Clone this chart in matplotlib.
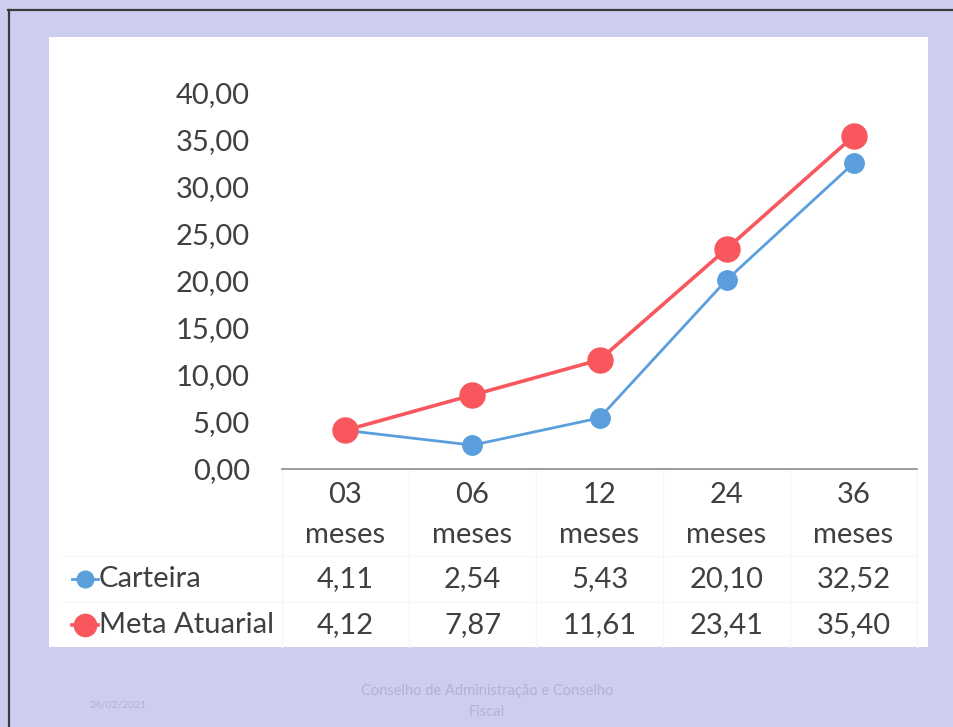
import matplotlib.pyplot as plt
import matplotlib.transforms as mtransforms
from matplotlib.patches import Rectangle
from matplotlib.lines import Line2D

# data
categories = ['03\nmeses', '06\nmeses', '12\nmeses', '24\nmeses', '36\nmeses']
carteira = [4.11, 2.54, 5.43, 20.10, 32.52]
meta = [4.12, 7.87, 11.61, 23.41, 35.40]
series_names = ['Carteira', 'Meta Atuarial']
yticks = [0, 5, 10, 15, 20, 25, 30, 35, 40]

W, H = 954, 727
blue = '#5a9fdc'
red = '#f8575d'
txt = '#404040'
font = 'Lato'
fs = 21

def fx(px):
    return px / W

def fy(py):
    return 1 - py / H

def fmt(v):
    return f'{v:.2f}'.replace('.', ',')

fig = plt.figure(figsize=(W / 100, H / 100), dpi=100, facecolor='#cdcdf1')

# white panel + frame lines
fig.patches.append(Rectangle((fx(49), fy(647)), fx(928) - fx(49), fy(37) - fy(647),
                             transform=fig.transFigure, facecolor='white', edgecolor='none', zorder=-5))
fig.lines.append(Line2D([fx(8), 1], [fy(10), fy(10)], transform=fig.transFigure, color='#3a3a3a', lw=1.6))
fig.lines.append(Line2D([fx(9), fx(9)], [fy(10), 0], transform=fig.transFigure, color='#3a3a3a', lw=1.6))

ax = fig.add_axes([fx(282), fy(469), fx(917) - fx(282), fy(93) - fy(469)])
ax.set_zorder(2)
ax.set_facecolor('none')
x = range(len(categories))
ax.plot(x, carteira, color=blue, lw=2, marker='o', ms=14, clip_on=False, zorder=2)
ax.plot(x, meta, color=red, lw=2.6, marker='o', ms=18, clip_on=False, zorder=3)
ax.set_xlim(-0.5, len(categories) - 0.5)
ax.set_ylim(0, 40)
ax.set_yticks(yticks)
ax.set_yticklabels([fmt(v) for v in yticks], fontsize=fs, color=txt, family=font)
ax.tick_params(axis='y', length=0, pad=23)
ax.set_xticks([])
for s in ['top', 'right', 'left']:
    ax.spines[s].set_visible(False)
ax.spines['bottom'].set_color('#8c8c8c')
ax.spines['bottom'].set_linewidth(1.2)

# data table below the axis
tr = mtransforms.blended_transform_factory(ax.transData, fig.transFigure)
for i, lab in enumerate(categories):
    top, bot = lab.split('\n')
    for py, s in [(495, top), (535, bot), (579, fmt(carteira[i])), (625, fmt(meta[i]))]:
        ax.text(i, fy(py), s, transform=tr, ha='center', va='center', fontsize=fs, color=txt,
                family=font, clip_on=False)

# faint table grid
grid_c = '#f6f6f6'
for i in range(len(categories) + 1):
    ax.add_line(Line2D([i - 0.5, i - 0.5], [fy(470), fy(647)], transform=tr, color=grid_c, lw=1,
                       clip_on=False, zorder=0))
for py in [556, 602]:
    fig.lines.append(Line2D([fx(62), fx(917)], [fy(py), fy(py)], transform=fig.transFigure,
                            color=grid_c, lw=1))

# legend keys in the table
for name, col, py, ms, lw in [(series_names[0], blue, 579, 12, 2), (series_names[1], red, 625, 16, 2.6)]:
    fig.lines.append(Line2D([fx(72), fx(85), fx(98)], [fy(py)] * 3, transform=fig.transFigure, color=col,
                            lw=lw, marker='o', markevery=[1], ms=ms))
    fig.text(fx(99), fy(py), name, ha='left', va='center', fontsize=fs, color=txt, family=font)

# footer
fc = '#b2b2d6'
fig.text(fx(118), fy(705), '24/02/2021', ha='center', va='center', fontsize=7.5, color=fc, family=font)
fig.text(fx(487), fy(691), 'Conselho de Administração e Conselho', ha='center', va='center', fontsize=10.5,
         color=fc, family=font)
fig.text(fx(487), fy(712), 'Fiscal', ha='center', va='center', fontsize=10.5, color=fc, family=font)

fig.savefig('out.png', dpi=100, facecolor=fig.get_facecolor())
